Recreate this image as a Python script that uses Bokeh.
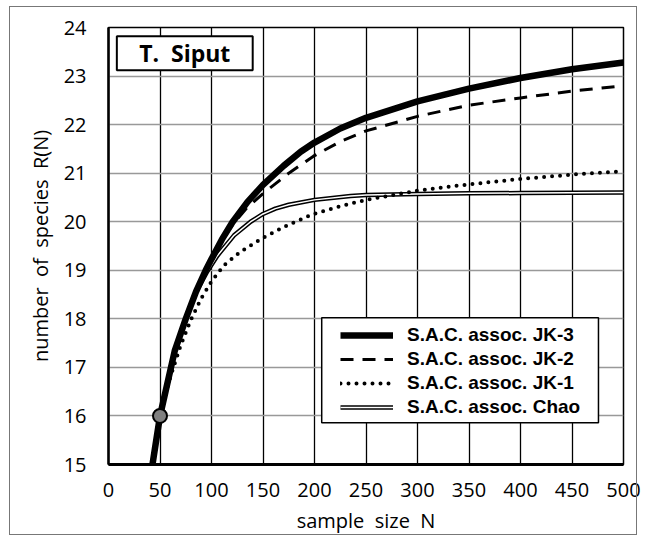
from bokeh.plotting import figure
from bokeh.models import Range1d, FixedTicker, Legend, LegendItem, BoxAnnotation, Label, InlineStyleSheet
from bokeh.embed import file_html
from bokeh.resources import INLINE

# ---- data ----
N_JK3 = [42.7, 50, 64.3, 75, 85, 94.4, 100, 110, 120.3, 135, 150, 170, 186.6, 200, 225, 250, 300, 350, 400, 450, 500]
R_JK3 = [15.0, 16.0, 17.34, 18.0, 18.56, 19.0, 19.23, 19.63, 19.99, 20.41, 20.76, 21.15, 21.44, 21.63, 21.92, 22.14, 22.48, 22.74, 22.96, 23.14, 23.28]

N_JK2 = [42.7, 50, 64.3, 75, 85, 94.4, 100, 110, 122, 135, 150, 175, 199, 225, 250, 300, 350, 400, 450, 500]
R_JK2 = [15.0, 16.0, 17.34, 18.0, 18.56, 19.0, 19.22, 19.61, 19.98, 20.3, 20.58, 21.0, 21.35, 21.65, 21.87, 22.17, 22.40, 22.55, 22.69, 22.80]

N_JK1 = [42.7, 50, 60, 70, 80, 90, 100, 112, 128, 150, 174, 199, 225, 250, 300, 350, 400, 450, 500]
R_JK1 = [15.0, 16.0, 16.8, 17.45, 17.98, 18.42, 18.77, 19.1, 19.38, 19.67, 19.93, 20.16, 20.32, 20.45, 20.64, 20.77, 20.88, 20.97, 21.04]

N_CHAO = [42.7, 50, 64.3, 75, 85, 96, 105.7, 121.9, 138, 150, 162, 175, 200, 235, 250, 300, 350, 400, 450, 500]
R_CHAO = [15.0, 16.0, 17.34, 18.0, 18.55, 18.98, 19.3, 19.72, 20.0, 20.16, 20.27, 20.35, 20.45, 20.53, 20.55, 20.57, 20.585, 20.59, 20.595, 20.6]

OBS_N = [50]
OBS_R = [16]

X_TICKS = [0, 50, 100, 150, 200, 250, 300, 350, 400, 450, 500]
Y_TICKS = [15, 16, 17, 18, 19, 20, 21, 22, 23, 24]

LABELS = ["S.A.C. assoc. JK-3", "S.A.C. assoc. JK-2", "S.A.C. assoc. JK-1", "S.A.C. assoc. Chao"]
TITLE = "T.\u00a0 Siput"
X_TITLE = "sample\u00a0 size\u00a0 N"
Y_TITLE = "number\u00a0 of\u00a0 species\u00a0 R(N)"

FONT = "Open Sans"
LEGEND_FONT = "Liberation Sans"

p = figure(width=646, height=536, x_range=Range1d(0, 500), y_range=Range1d(15, 24),
           output_backend="svg", toolbar_location=None,
           min_border_left=108, min_border_right=23, min_border_top=27, min_border_bottom=72)
p.background_fill_color = "white"
p.border_fill_color = "white"
p.outline_line_color = "black"
p.outline_line_width = 1.5
p.stylesheets = [InlineStyleSheet(css=(
    ":host { position: relative; }"
    ":host::after { content: ''; position: absolute; left: 9px; top: 6px; width: 626px; height: 527px;"
    " border: 1.5px solid #777777; pointer-events: none; z-index: 10; }"))]

p.xaxis.ticker = FixedTicker(ticks=X_TICKS)
p.yaxis.ticker = FixedTicker(ticks=Y_TICKS)
for ax in (p.xaxis, p.yaxis):
    ax.major_tick_in = 0
    ax.major_tick_out = 0
    ax.minor_tick_in = 0
    ax.minor_tick_out = 0
    ax.axis_line_color = "black"
    ax.major_label_text_font = FONT
    ax.major_label_text_font_size = "20px"
    ax.major_label_text_color = "black"
    ax.axis_label_text_font = FONT
    ax.axis_label_text_font_size = "20px"
    ax.axis_label_text_font_style = "normal"
    ax.axis_label_text_color = "black"
p.xaxis.axis_line_width = 3
p.yaxis.axis_line_width = 2.5
p.xaxis.major_label_standoff = 18
p.xaxis.axis_label_standoff = 7
p.yaxis.major_label_standoff = 22
p.yaxis.axis_label_standoff = 7
p.xaxis.axis_label = X_TITLE
p.yaxis.axis_label = Y_TITLE

p.xgrid.grid_line_color = "black"
p.xgrid.grid_line_width = 1.3
p.ygrid.grid_line_color = "#999999"
p.ygrid.grid_line_width = 1.5

# curves
chao_a = p.line(N_CHAO, R_CHAO, line_color="black", line_width=4.5)
chao_b = p.line(N_CHAO, R_CHAO, line_color="white", line_width=1.5)
jk1 = p.line(N_JK1, R_JK1, line_color="black", line_width=4, line_dash="0 8", line_cap="round")
jk2 = p.line(N_JK2, R_JK2, line_color="black", line_width=3, line_dash="13 9")
jk3 = p.line(N_JK3, R_JK3, line_color="black", line_width=6.5)
p.scatter(OBS_N, OBS_R, size=14, fill_color="#808080", line_color="black", line_width=2)

# legend box + legend
legend_box = BoxAnnotation(left=207, right=475.7, bottom=15.86, top=18.02,
                           fill_color="white", fill_alpha=1.0, line_color="black",
                           line_alpha=1.0, line_width=1.5)
p.add_layout(legend_box)
legend = Legend(items=[LegendItem(label=LABELS[0], renderers=[jk3]),
                       LegendItem(label=LABELS[1], renderers=[jk2]),
                       LegendItem(label=LABELS[2], renderers=[jk1]),
                       LegendItem(label=LABELS[3], renderers=[chao_a, chao_b])],
                location=(232, 46), glyph_width=53, glyph_height=20, spacing=2,
                padding=0, margin=0, label_standoff=14,
                label_text_font=LEGEND_FONT, label_text_font_style="bold",
                label_text_font_size="19px", label_text_color="black",
                border_line_color=None, background_fill_alpha=0.0)
p.add_layout(legend)

# title box
title_box = BoxAnnotation(left=8.1, right=140, bottom=23.12, top=23.82,
                          fill_color="white", fill_alpha=1.0, line_color="black",
                          line_alpha=1.0, line_width=2)
p.add_layout(title_box)
p.add_layout(Label(x=74, y=23.47, text=TITLE, text_align="center", text_baseline="middle",
                   text_font=FONT, text_font_style="bold", text_font_size="23px", text_color="black"))

open("out.html", "w").write(file_html(p, INLINE))
